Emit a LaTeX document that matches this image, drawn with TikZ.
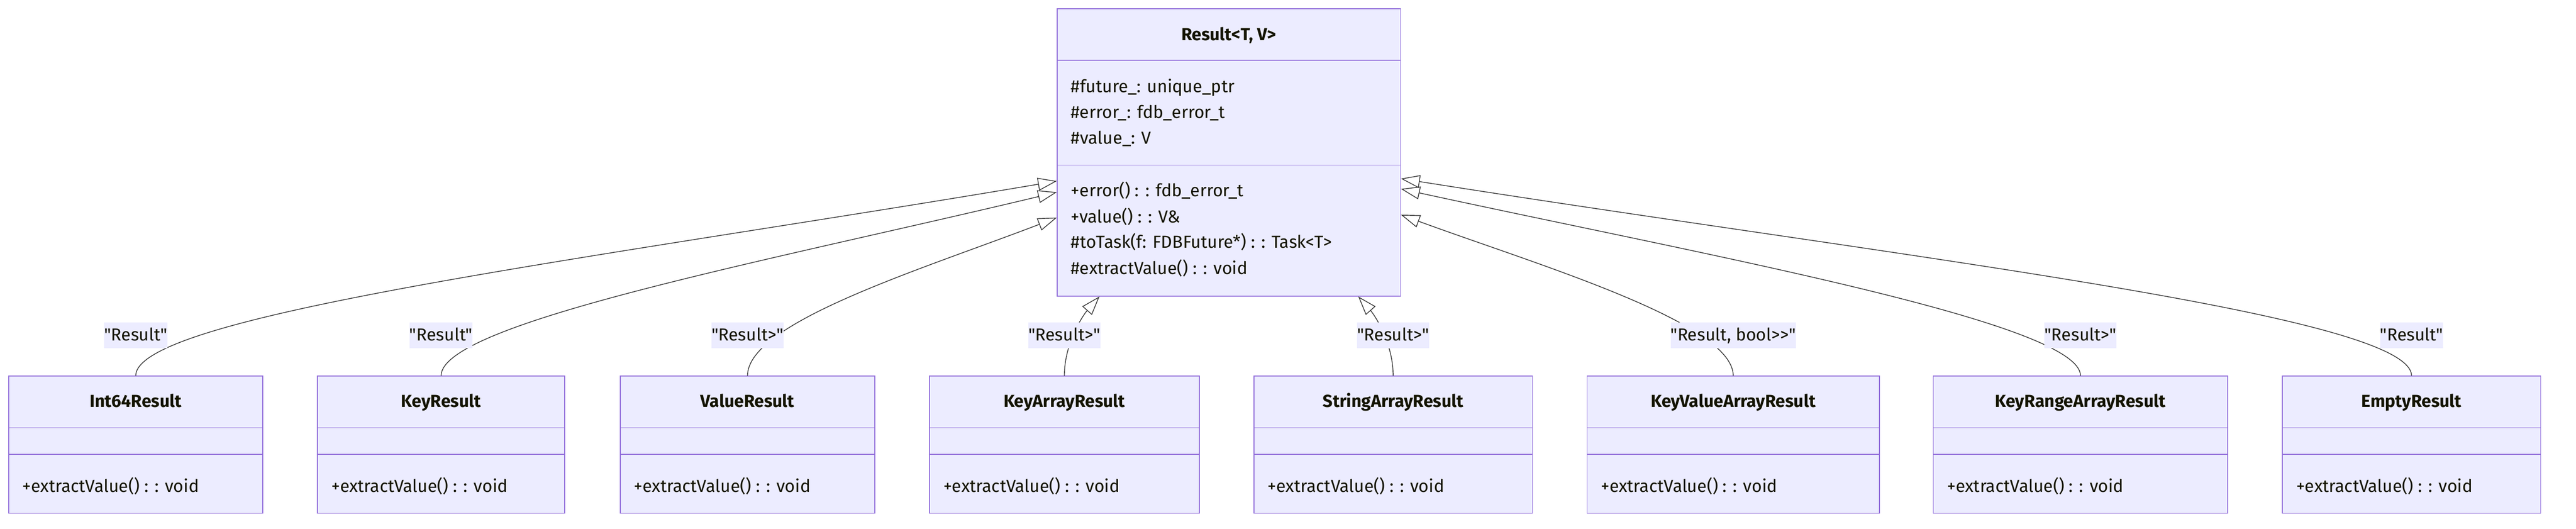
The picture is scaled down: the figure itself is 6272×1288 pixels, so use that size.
\documentclass[tikz,border=0pt]{standalone}
\usepackage{fontspec}
\setmainfont{Fira Sans}[Ligatures=TeXOff]
\usetikzlibrary{arrows.meta,positioning}
\definecolor{boxfill}{HTML}{ECECFF}
\definecolor{boxline}{HTML}{9370DB}
\definecolor{edgeline}{HTML}{333333}
\definecolor{txt}{HTML}{131300}

\begin{document}
\begin{tikzpicture}[x=0.25pt,y=0.25pt,
  cls/.style={rectangle, draw=boxline, fill=boxfill, line width=0.5pt, minimum height=83.5pt, inner sep=0pt},
  divider/.style={draw=boxline, line width=0.5pt},
  clsname/.style={anchor=base, text=txt, inner sep=0pt, font=\fontsize{10.6pt}{12pt}\selectfont\bfseries},
  member/.style={anchor=base west, text=txt, inner sep=0pt, font=\fontsize{10.6pt}{12pt}\selectfont},
  lbl/.style={fill=boxfill, text=txt, inner xsep=0pt, inner ysep=0pt, minimum height=15.75pt, text height=7.25pt, text depth=1pt, font=\fontsize{10.6pt}{12pt}\selectfont},
  gen/.style={draw=edgeline, line width=0.45pt, -{Triangle[open, length=11.5pt, width=7.8pt]}}]
\useasboundingbox (0,0) rectangle (6272,-1288);

% base class
\draw (2992,-371) node[cls, minimum width=209pt, minimum height=175pt] (Res) {};
\draw[divider] ([yshift=-31.75pt]Res.north west) -- ([yshift=-31.75pt]Res.north east);
\draw[divider] ([yshift=-95.5pt]Res.north west) -- ([yshift=-95.5pt]Res.north east);
\draw (2992,-99) node[clsname] (ResT) {Result<T, V>};
\draw (2607,-225.6) node[member] (a1) {\#future\_: unique\_ptr};
\draw (2607,-287.9) node[member] (a2) {\#error\_: fdb\_error\_t};
\draw (2607,-350.6) node[member] (a3) {\#value\_: V};
\draw (2607,-479) node[member] (m1) {+error() : : fdb\_error\_t};
\draw (2607,-542.7) node[member] (m2) {+value() : : V\&};
\draw (2607,-604) node[member] (m3) {\#toTask(f: FDBFuture*) : : Task<T>};
\draw (2607,-667.8) node[member] (m4) {\#extractValue() : : void};

% tips on the base class
\coordinate (t1) at ([yshift=-105.25pt]Res.north west);
\coordinate (t2) at ([yshift=-112pt]Res.north west);
\coordinate (t3) at ([yshift=-127.5pt]Res.north west);
\coordinate (t4) at ([xshift=26pt]Res.south west);
\coordinate (t5) at ([xshift=-26pt]Res.south east);
\coordinate (t6) at ([yshift=-125.75pt]Res.north east);
\coordinate (t7) at ([yshift=-110pt]Res.north east);
\coordinate (t8) at ([yshift=-103.75pt]Res.north east);

% derived classes
\draw (330.5,-1083) node[cls, minimum width=154.75pt] (Int) {};
\draw[divider] ([yshift=-31.75pt]Int.north west) -- ([yshift=-31.75pt]Int.north east) ([yshift=-47.75pt]Int.north west) -- ([yshift=-47.75pt]Int.north east);
\draw (330.5,-992) node[clsname] (IntT) {Int64Result};
\draw (54,-1199) node[member] (IntM) {+extractValue() : : void};

\draw (1074,-1083) node[cls, minimum width=150.5pt] (Key) {};
\draw[divider] ([yshift=-31.75pt]Key.north west) -- ([yshift=-31.75pt]Key.north east) ([yshift=-47.75pt]Key.north west) -- ([yshift=-47.75pt]Key.north east);
\draw (1074,-992) node[clsname] (KeyT) {KeyResult};
\draw (806,-1199) node[member] (KeyM) {+extractValue() : : void};

\draw (1820,-1083) node[cls, minimum width=155pt] (Val) {};
\draw[divider] ([yshift=-31.75pt]Val.north west) -- ([yshift=-31.75pt]Val.north east) ([yshift=-47.75pt]Val.north west) -- ([yshift=-47.75pt]Val.north east);
\draw (1820,-992) node[clsname] (ValT) {ValueResult};
\draw (1543,-1199) node[member] (ValM) {+extractValue() : : void};

\draw (2591.5,-1083) node[cls, minimum width=164.25pt] (KeyArr) {};
\draw[divider] ([yshift=-31.75pt]KeyArr.north west) -- ([yshift=-31.75pt]KeyArr.north east) ([yshift=-47.75pt]KeyArr.north west) -- ([yshift=-47.75pt]KeyArr.north east);
\draw (2591.5,-992) node[clsname] (KeyArrT) {KeyArrayResult};
\draw (2296,-1199) node[member] (KeyArrM) {+extractValue() : : void};

\draw (3392,-1083) node[cls, minimum width=169.5pt] (StrArr) {};
\draw[divider] ([yshift=-31.75pt]StrArr.north west) -- ([yshift=-31.75pt]StrArr.north east) ([yshift=-47.75pt]StrArr.north west) -- ([yshift=-47.75pt]StrArr.north east);
\draw (3392,-992) node[clsname] (StrArrT) {StringArrayResult};
\draw (3086,-1199) node[member] (StrArrM) {+extractValue() : : void};

\draw (4220,-1083) node[cls, minimum width=178pt] (KVArr) {};
\draw[divider] ([yshift=-31.75pt]KVArr.north west) -- ([yshift=-31.75pt]KVArr.north east) ([yshift=-47.75pt]KVArr.north west) -- ([yshift=-47.75pt]KVArr.north east);
\draw (4220,-992) node[clsname] (KVArrT) {KeyValueArrayResult};
\draw (3897,-1199) node[member] (KVArrM) {+extractValue() : : void};

\draw (5065.5,-1083) node[cls, minimum width=179.25pt] (KRArr) {};
\draw[divider] ([yshift=-31.75pt]KRArr.north west) -- ([yshift=-31.75pt]KRArr.north east) ([yshift=-47.75pt]KRArr.north west) -- ([yshift=-47.75pt]KRArr.north east);
\draw (5065.5,-992) node[clsname] (KRArrT) {KeyRangeArrayResult};
\draw (4740,-1199) node[member] (KRArrM) {+extractValue() : : void};

\draw (5871.5,-1083) node[cls, minimum width=157.25pt] (Emp) {};
\draw[divider] ([yshift=-31.75pt]Emp.north west) -- ([yshift=-31.75pt]Emp.north east) ([yshift=-47.75pt]Emp.north west) -- ([yshift=-47.75pt]Emp.north east);
\draw (5871.5,-992) node[clsname] (EmpT) {EmptyResult};
\draw (5590,-1199) node[member] (EmpM) {+extractValue() : : void};

% inheritance
\draw[gen] (Int.north) to[out=90, in=189.6, out distance=37.5pt, in distance=275pt] (t1);
\draw[gen] (Key.north) to[out=90, in=193.5, out distance=32.5pt, in distance=175pt] (t2);
\draw[gen] (Val.north) to[out=90, in=201, out distance=32.5pt, in distance=87.5pt] (t3);
\draw[gen] (KeyArr.north) to[out=90, in=228.7, out distance=20pt, in distance=15pt] (t4);
\draw[gen] (StrArr.north) to[out=90, in=311.3, out distance=20pt, in distance=15pt] (t5);
\draw[gen] (KVArr.north) to[out=90, in=339.8, out distance=32.5pt, in distance=87.5pt] (t6);
\draw[gen] (KRArr.north) to[out=90, in=347.7, out distance=32.5pt, in distance=187.5pt] (t7);
\draw[gen] (Emp.north) to[out=90, in=351, out distance=37.5pt, in distance=300pt] (t8);

% labels
\node[lbl, above=16.5pt of Int] (l1) {"Result"};
\node[lbl, above=16.5pt of Key] (l2) {"Result"};
\node[lbl, above=16.5pt of Val] (l3) {"Result>"};
\node[lbl, above=16.5pt of KeyArr] (l4) {"Result>"};
\node[lbl, above=16.5pt of StrArr] (l5) {"Result>"};
\node[lbl, above=16.5pt of KVArr] (l6) {"Result, bool>>"};
\node[lbl, above=16.5pt of KRArr] (l7) {"Result>"};
\node[lbl, above=16.5pt of Emp] (l8) {"Result"};

\end{tikzpicture}
\end{document}
